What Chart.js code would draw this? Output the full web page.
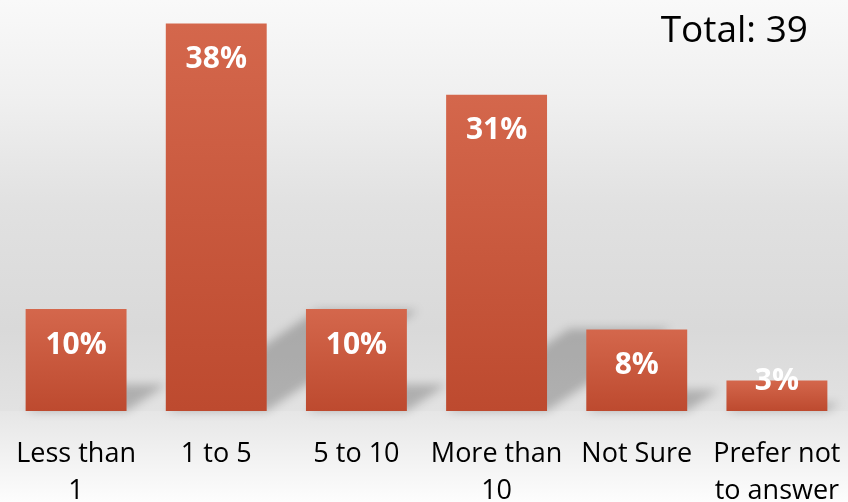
<!DOCTYPE html>
<html>
<head>
<meta charset="utf-8">
<script src="https://cdn.jsdelivr.net/npm/chart.js@4/dist/chart.umd.min.js"></script>
<style>
  html, body { margin: 0; padding: 0; background: #fff; }
  #wrap { position: relative; width: 848px; height: 502px; }
</style>
</head>
<body>
<div id="wrap"><canvas id="chart"></canvas></div>
<script>
const categories = [['Less than', '1'], '1 to 5', '5 to 10', ['More than', '10'], 'Not Sure', ['Prefer not', 'to answer']];
const shares = [10, 38, 10, 31, 8, 3];
const totalLabel = 'Total: 39';

const FONT = '"Open Sans", Lato, sans-serif';

// page-wide backdrop: grey wall fading up to white, lighter floor under the bars
const backdrop = {
  id: 'backdrop',
  beforeDraw(chart) {
    const { ctx, width, height, chartArea } = chart;
    const floor = chartArea.bottom;
    ctx.save();
    let g = ctx.createLinearGradient(0, 0, 0, floor);
    g.addColorStop(0, '#f9f9f9');
    g.addColorStop(0.25, '#efefef');
    g.addColorStop(0.5, '#e1e1e1');
    g.addColorStop(0.8, '#d9d9d9');
    g.addColorStop(1, '#e2e2e2');
    ctx.fillStyle = g;
    ctx.fillRect(0, 0, width, floor);
    g = ctx.createLinearGradient(0, floor, 0, height);
    g.addColorStop(0, '#e6e6e6');
    g.addColorStop(1, '#fdfdfd');
    ctx.fillStyle = g;
    ctx.fillRect(0, floor, width, height - floor);
    ctx.restore();
  }
};

// slanted floor shadow behind each bar
const barShadows = {
  id: 'barShadows',
  beforeDatasetsDraw(chart) {
    const { ctx } = chart;
    const meta = chart.getDatasetMeta(0);
    ctx.save();
    ctx.filter = 'blur(5px)';
    ctx.fillStyle = 'rgba(0,0,0,0.22)';
    meta.data.forEach(bar => {
      const { x, y, base, width } = bar.getProps(['x', 'y', 'base', 'width'], true);
      const h = base - y;
      const x0 = x - width / 2, x1 = x + width / 2;
      const dx = h * 0.39, dy = h * 0.26;
      ctx.beginPath();
      ctx.moveTo(x0, base);
      ctx.lineTo(x1, base);
      ctx.lineTo(x1 + dx, base - dy);
      ctx.lineTo(x0 + dx, base - dy);
      ctx.closePath();
      ctx.fill();
    });
    ctx.restore();
  }
};

// percentage labels inside the top of each bar, plus the total in the corner
const labels = {
  id: 'labels',
  afterDatasetsDraw(chart) {
    const { ctx, chartArea } = chart;
    const meta = chart.getDatasetMeta(0);
    ctx.save();
    ctx.textAlign = 'center';
    ctx.textBaseline = 'middle';
    ctx.fillStyle = '#ffffff';
    ctx.font = `bold 30px ${FONT}`;
    meta.data.forEach((bar, i) => {
      const { x, y, base } = bar.getProps(['x', 'y', 'base'], true);
      const ly = base - y > 60 ? y + 36 : y + 1;
      ctx.fillText(shares[i] + '%', x, ly);
    });
    ctx.textAlign = 'right';
    ctx.textBaseline = 'alphabetic';
    ctx.fillStyle = '#000000';
    ctx.font = `37px ${FONT}`;
    ctx.fillText(totalLabel, chartArea.right - 39, 42);
    ctx.restore();
  }
};

new Chart(document.getElementById('chart'), {
  type: 'bar',
  data: {
    labels: categories,
    datasets: [{
      data: shares,
      backgroundColor(c) {
        const { chart } = c;
        if (!chart.chartArea || c.type !== 'data') return '#c9573d';
        const top = chart.scales.y.getPixelForValue(c.raw);
        const bottom = chart.scales.y.getPixelForValue(0);
        const g = chart.ctx.createLinearGradient(0, top, 0, bottom);
        g.addColorStop(0, '#d4674c');
        g.addColorStop(1, '#bd4a2f');
        return g;
      },
      borderWidth: 0,
      categoryPercentage: 1,
      barPercentage: 0.72
    }]
  },
  options: {
    responsive: true,
    maintainAspectRatio: false,
    animation: false,
    events: [],
    layout: { padding: { top: 3, left: 6, right: 1, bottom: 0 } },
    plugins: {
      legend: { display: false },
      tooltip: { enabled: false }
    },
    scales: {
      x: {
        grid: { display: false, drawTicks: false },
        border: { display: false },
        ticks: {
          color: '#000000',
          padding: 24,
          maxRotation: 0,
          autoSkip: false,
          font: { family: FONT, size: 27, lineHeight: 1.4 }
        },
        afterFit(s) {
          // keep the plot full-width; the edge labels may overhang
          s.height = 91;
          s.paddingLeft = 0;
          s.paddingRight = 0;
        }
      },
      y: {
        display: false,
        min: 0,
        max: 40
      }
    }
  },
  plugins: [backdrop, barShadows, labels]
});
</script>
</body>
</html>
